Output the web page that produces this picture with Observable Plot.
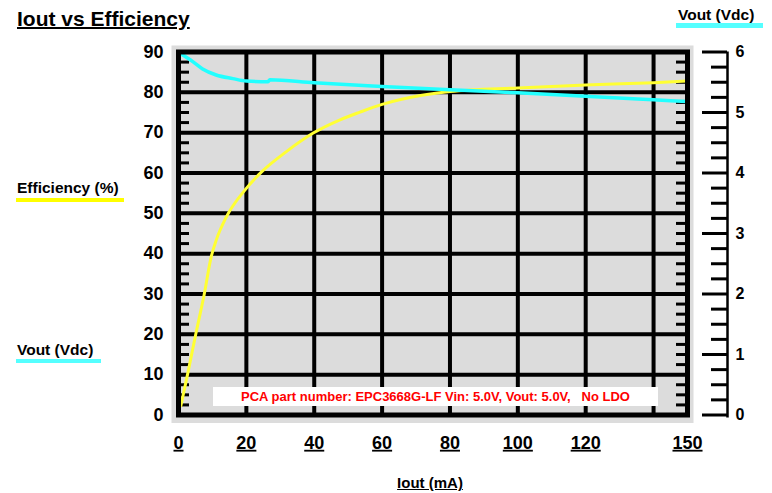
<!DOCTYPE html>
<html>
<head>
<meta charset="utf-8">
<script src="https://cdn.jsdelivr.net/npm/d3@7"></script>
<script src="https://cdn.jsdelivr.net/npm/@observablehq/plot@0.6"></script>
<style>
  body { margin: 0; background: #fff; }
  #wrap { position: relative; width: 772px; height: 493px; font-family: Arial, "Liberation Sans", sans-serif; }
  #wrap svg { position: absolute; left: 0; top: 0; }
  .ov { position: absolute; font-weight: bold; color: #000; white-space: pre; line-height: 1; }
  .bar { position: absolute; }
  g[aria-label="x-axis tick label"] text { text-decoration: underline; text-decoration-thickness: 2px; }
</style>
</head>
<body>
<div id="wrap"></div>
<script>
// ---- Data ----
const effIout = [0.7, 2.7, 5.1, 7.6, 9.6, 11.1, 14.1, 19.5, 24.4, 31.8, 39.7, 47.6, 53.5, 60, 71.3, 80, 100, 120, 140, 150];
const effPct  = [2.3, 10.2, 20.1, 30.0, 39.1, 43.3, 49.1, 55.7, 60.2, 65.3, 69.9, 73.2, 75.1, 77.0, 79.2, 80.2, 81.1, 81.8, 82.4, 82.8];

const voutIout = [0.7, 4.2, 7.1, 11.1, 16, 20, 26.4, 26.9, 40, 60, 80, 100, 120, 140, 150];
const voutVdc  = [5.97, 5.84, 5.72, 5.62, 5.56, 5.52, 5.51, 5.54, 5.49, 5.43, 5.375, 5.325, 5.27, 5.21, 5.18];

// ---- Ticks ----
const xTickLabels = [0, 20, 40, 60, 80, 100, 120, 150];
const xGrid = [20, 40, 60, 80, 100, 120, 140];
const yTickLabels = [0, 10, 20, 30, 40, 50, 60, 70, 80, 90];
const yGrid = [10, 20, 30, 40, 50, 60, 70, 80];
const yMinor = d3.range(2.5, 90, 2.5).filter(d => d % 10 !== 0);
const voutTickLabels = [0, 1, 2, 3, 4, 5, 6];
const voutMinor = d3.range(0.25, 6, 0.25).filter(d => d % 1 !== 0);

const vScale = 90 / 6; // right axis 0..6 V mapped onto 0..90 %

const effData = effIout.map((x, i) => ({x, y: effPct[i]}));
const voutData = voutIout.map((x, i) => ({x, v: voutVdc[i]}));

const W = 772, H = 493;
const mL = 178, mR = 85, mT = 51.5, mB = 78.5;
const frameW = W - mL - mR;

const chart = Plot.plot({
  width: W,
  height: H,
  marginLeft: mL,
  marginRight: mR,
  marginTop: mT,
  marginBottom: mB,
  style: {fontFamily: 'Arial, "Liberation Sans", sans-serif', background: "transparent", overflow: "visible"},
  x: {domain: [0, 150]},
  y: {domain: [0, 90]},
  marks: [
    Plot.frame({fill: "#dcdcdc", stroke: null, insetLeft: -7, insetRight: -6, insetTop: -6.5, insetBottom: -8}),
    Plot.gridX(xGrid, {stroke: "black", strokeOpacity: 1, strokeWidth: 4}),
    Plot.gridY(yGrid, {stroke: "black", strokeOpacity: 1, strokeWidth: 4}),
    Plot.tickY(yMinor, {y: d => d, stroke: "black", strokeWidth: 3, insetRight: frameW - 11}),
    Plot.tickY(yMinor, {y: d => d, stroke: "black", strokeWidth: 3, insetLeft: frameW - 11}),
    Plot.line(effData, {x: "x", y: "y", stroke: "#ffff33", strokeWidth: 3, curve: "monotone-x"}),
    Plot.line(voutData, {x: "x", y: d => d.v * vScale, stroke: "#22ffff", strokeWidth: 3.5, curve: "monotone-x"}),
    Plot.frame({stroke: "black", strokeWidth: 5}),
    Plot.axisX(xTickLabels, {anchor: "bottom", tickSize: 0, tickPadding: 21, label: null, fontSize: 18, fontWeight: "bold"}),
    Plot.axisY(yTickLabels, {anchor: "left", tickSize: 0, tickPadding: 15, label: null, fontSize: 18, fontWeight: "bold"}),
    // right (Vout) axis, offset outside the plot
    Plot.ruleX([150], {dx: 40, stroke: "black", strokeWidth: 2.5, insetBottom: -3}),
    Plot.tickY(voutTickLabels, {y: d => d * vScale, stroke: "black", strokeWidth: 3, insetLeft: 524, insetRight: -40}),
    Plot.tickY(voutMinor, {y: d => d * vScale, stroke: "black", strokeWidth: 3, insetLeft: 533, insetRight: -40}),
    Plot.axisY(voutTickLabels.map(d => d * vScale), {anchor: "right", tickSize: 0, tickPadding: 48, label: null, tickFormat: d => d / vScale, fontSize: 16, fontWeight: "bold"})
  ]
});

const wrap = document.getElementById("wrap");
wrap.appendChild(chart);

function overlay(html, css, cls = "ov") {
  const d = document.createElement("div");
  d.className = cls;
  d.textContent = html;
  Object.assign(d.style, css);
  wrap.appendChild(d);
  return d;
}

// Title
overlay("Iout vs Efficiency", {left: "17px", top: "8px", fontSize: "21px", textDecoration: "underline", textDecorationThickness: "2px"});
// Top-right Vout label
overlay("Vout (Vdc)", {left: "678px", top: "7px", fontSize: "15.5px"});
overlay("", {left: "676px", top: "23px", width: "87px", height: "5px", background: "#55ffff"}, "bar");
// Left legend labels
overlay("Efficiency (%)", {left: "17px", top: "179.5px", fontSize: "15.5px"});
overlay("", {left: "16px", top: "197.5px", width: "108px", height: "4.5px", background: "#ffff00"}, "bar");
overlay("Vout (Vdc)", {left: "17px", top: "342px", fontSize: "15.5px"});
overlay("", {left: "16px", top: "358.5px", width: "85px", height: "4.5px", background: "#55ffff"}, "bar");
// X axis title
overlay("Iout (mA)", {left: "330px", width: "200px", textAlign: "center", top: "475px", fontSize: "15px", textDecoration: "underline"});
// Annotation box
overlay("PCA part number: EPC3668G-LF Vin: 5.0V, Vout: 5.0V,   No LDO",
  {left: "213px", top: "386.5px", width: "445px", height: "19.5px", lineHeight: "19.5px", background: "#fff",
   color: "#ff0000", fontSize: "13px", textAlign: "center"});
</script>
</body>
</html>
